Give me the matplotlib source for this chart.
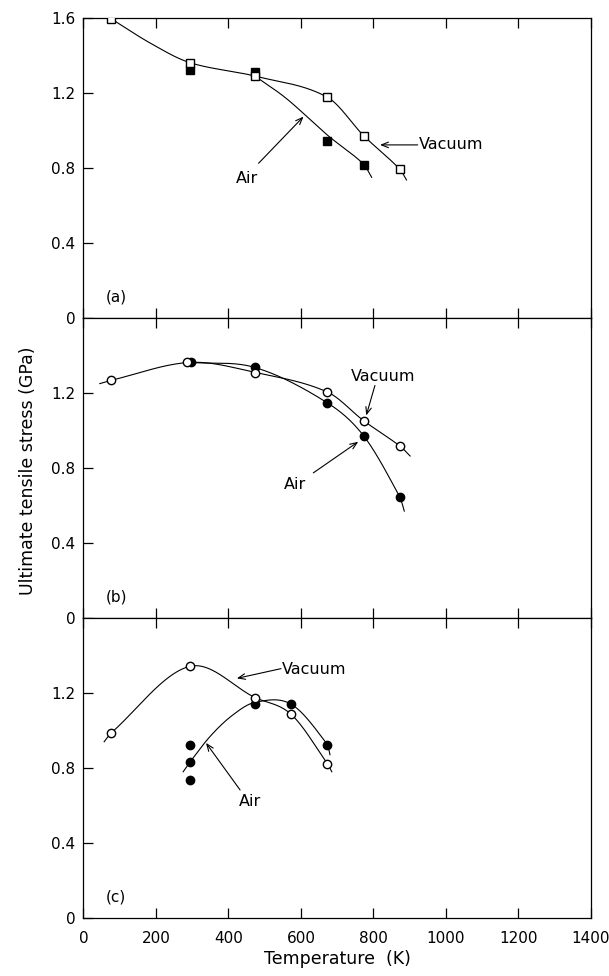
import numpy as np
import matplotlib
matplotlib.use("Agg")
import matplotlib.pyplot as plt

# ---- data (temperature K, stress GPa) ----
# panel (a): squares
A_VAC_T = [77, 293, 473, 673, 773, 873]
A_VAC_S = [1.595, 1.362, 1.29, 1.177, 0.972, 0.793]
A_AIR_T = [293, 473, 673, 773]
A_AIR_S = [1.323, 1.314, 0.942, 0.818]
# hand-drawn trend lines (nodes)
A_VAC_CURVE_T = [77, 185, 293, 473, 673, 773, 873, 891]
A_VAC_CURVE_S = [1.595, 1.465, 1.362, 1.29, 1.177, 0.972, 0.793, 0.736]
A_AIR_CURVE_T = [473, 560, 673, 773, 795]
A_AIR_CURVE_S = [1.29, 1.17, 0.975, 0.82, 0.75]

# panel (b): circles
B_VAC_T = [77, 286, 473, 673, 773, 873]
B_VAC_S = [1.268, 1.363, 1.307, 1.205, 1.052, 0.917]
B_AIR_T = [297, 473, 673, 773, 873]
B_AIR_S = [1.363, 1.336, 1.147, 0.971, 0.644]
B_VAC_CURVE_T = [45, 77, 293, 473, 673, 773, 873, 901]
B_VAC_CURVE_S = [1.25, 1.268, 1.363, 1.31, 1.205, 1.052, 0.917, 0.864]
B_AIR_CURVE_T = [297, 473, 673, 773, 873, 885]
B_AIR_CURVE_S = [1.363, 1.336, 1.147, 0.971, 0.644, 0.57]

# panel (c): circles
C_VAC_T = [77, 293, 473, 573, 673]
C_VAC_S = [0.988, 1.342, 1.176, 1.086, 0.823]
C_AIR_T = [293, 293, 293, 473, 573, 673]
C_AIR_S = [0.925, 0.83, 0.737, 1.14, 1.14, 0.925]
C_VAC_CURVE_T = [57, 77, 293, 473, 573, 673, 685]
C_VAC_CURVE_S = [0.94, 0.988, 1.342, 1.176, 1.086, 0.823, 0.78]
C_AIR_CURVE_T = [275, 293, 350, 410, 473, 573, 673, 680]
C_AIR_CURVE_S = [0.78, 0.83, 0.97, 1.08, 1.15, 1.14, 0.925, 0.871]


def smooth(xk, yk, n=300):
    """Cubic Hermite (Catmull-Rom style) through the hand-drawn curve nodes."""
    xk = np.asarray(xk, float)
    yk = np.asarray(yk, float)
    h = np.diff(xk)
    m = np.empty_like(yk)
    m[1:-1] = (yk[2:] - yk[:-2]) / (xk[2:] - xk[:-2])
    m[0] = (yk[1] - yk[0]) / h[0]
    m[-1] = (yk[-1] - yk[-2]) / h[-1]
    xs = np.linspace(xk[0], xk[-1], n)
    idx = np.clip(np.searchsorted(xk, xs) - 1, 0, len(h) - 1)
    t = (xs - xk[idx]) / h[idx]
    h00 = 2 * t**3 - 3 * t**2 + 1
    h10 = t**3 - 2 * t**2 + t
    h01 = -2 * t**3 + 3 * t**2
    h11 = t**3 - t**2
    ys = (h00 * yk[idx] + h10 * h[idx] * m[idx]
          + h01 * yk[idx + 1] + h11 * h[idx] * m[idx + 1])
    return xs, ys


FS = 11
plt.rcParams["font.family"] = "DejaVu Sans"

fig = plt.figure(figsize=(6.09, 9.76), dpi=100)
left, width, height = 0.1371, 0.8333, 0.3074
bottoms = [0.6742, 0.3668, 0.0594]
axes = [fig.add_axes([left, b, width, height]) for b in bottoms]

panels = [
    ("(a)", "s", (A_VAC_T, A_VAC_S), (A_AIR_T, A_AIR_S),
     (A_VAC_CURVE_T, A_VAC_CURVE_S), (A_AIR_CURVE_T, A_AIR_CURVE_S)),
    ("(b)", "o", (B_VAC_T, B_VAC_S), (B_AIR_T, B_AIR_S),
     (B_VAC_CURVE_T, B_VAC_CURVE_S), (B_AIR_CURVE_T, B_AIR_CURVE_S)),
    ("(c)", "o", (C_VAC_T, C_VAC_S), (C_AIR_T, C_AIR_S),
     (C_VAC_CURVE_T, C_VAC_CURVE_S), (C_AIR_CURVE_T, C_AIR_CURVE_S)),
]

# (text, text pos, ha, arrow tail, arrow head)
notes = [
    [("Vacuum", (924, 0.923), "left", (922, 0.923), (818, 0.923)),
     ("Air", (451, 0.745), "center", (483, 0.825), (607, 1.074))],
    [("Vacuum", (827, 1.29), "center", (804, 1.24), (780, 1.08)),
     ("Air", (584, 0.71), "center", (634, 0.774), (758, 0.94))],
    [("Vacuum", (547, 1.328), "left", (545, 1.33), (423, 1.278)),
     ("Air", (458, 0.624), "center", (432, 0.683), (338, 0.934))],
]

for i, (ax, (tag, mk, vac, air, vcurve, acurve)) in enumerate(zip(axes, panels)):
    xs, ys = smooth(*vcurve)
    ax.plot(xs, ys, color="black", lw=0.8, zorder=1)
    xs, ys = smooth(*acurve)
    ax.plot(xs, ys, color="black", lw=0.8, zorder=1)
    ms = 5.5 if mk == "s" else 6
    ax.plot(air[0], air[1], linestyle="", marker=mk, ms=ms, mfc="black",
            mec="black", zorder=3)
    ax.plot(vac[0], vac[1], linestyle="", marker=mk, ms=ms, mfc="white",
            mec="black", mew=1.0, zorder=4)

    for text, tpos, ha, tail, head in notes[i]:
        ax.text(tpos[0], tpos[1], text, ha=ha, va="center", fontsize=FS + 0.5)
        ax.annotate("", xy=head, xytext=tail,
                    arrowprops=dict(arrowstyle="->,head_length=0.5,head_width=0.2",
                                    lw=0.8, color="black",
                                    shrinkA=0, shrinkB=0))

    ax.text(90, 0.11, tag, ha="center", va="center", fontsize=FS)

    ax.set_xlim(0, 1400)
    ax.set_ylim(0, 1.6)
    ax.set_xticks(range(0, 1401, 200))
    if i == 0:
        ax.set_yticks([0, 0.4, 0.8, 1.2, 1.6])
        ax.set_yticklabels(["0", "0.4", "0.8", "1.2", "1.6"])
    else:
        ax.set_yticks([0, 0.4, 0.8, 1.2])
        ax.set_yticklabels(["0", "0.4", "0.8", "1.2"])
    ax.tick_params(axis="x", direction="in", top=True, length=7, width=0.9,
                   labelsize=FS, pad=9)
    ax.tick_params(axis="y", direction="in", length=7, width=0.9,
                   labelsize=FS, pad=6)
    if i < 2:
        ax.tick_params(axis="x", labelbottom=False)
    for sp in ax.spines.values():
        sp.set_linewidth(0.9)

axes[-1].set_xlabel("Temperature  (K)", fontsize=12.5, labelpad=3)
fig.text(0.046, 0.518, "Ultimate tensile stress (GPa)", rotation=90,
         ha="center", va="center", fontsize=12.5)

fig.savefig("out.png", dpi=100)
